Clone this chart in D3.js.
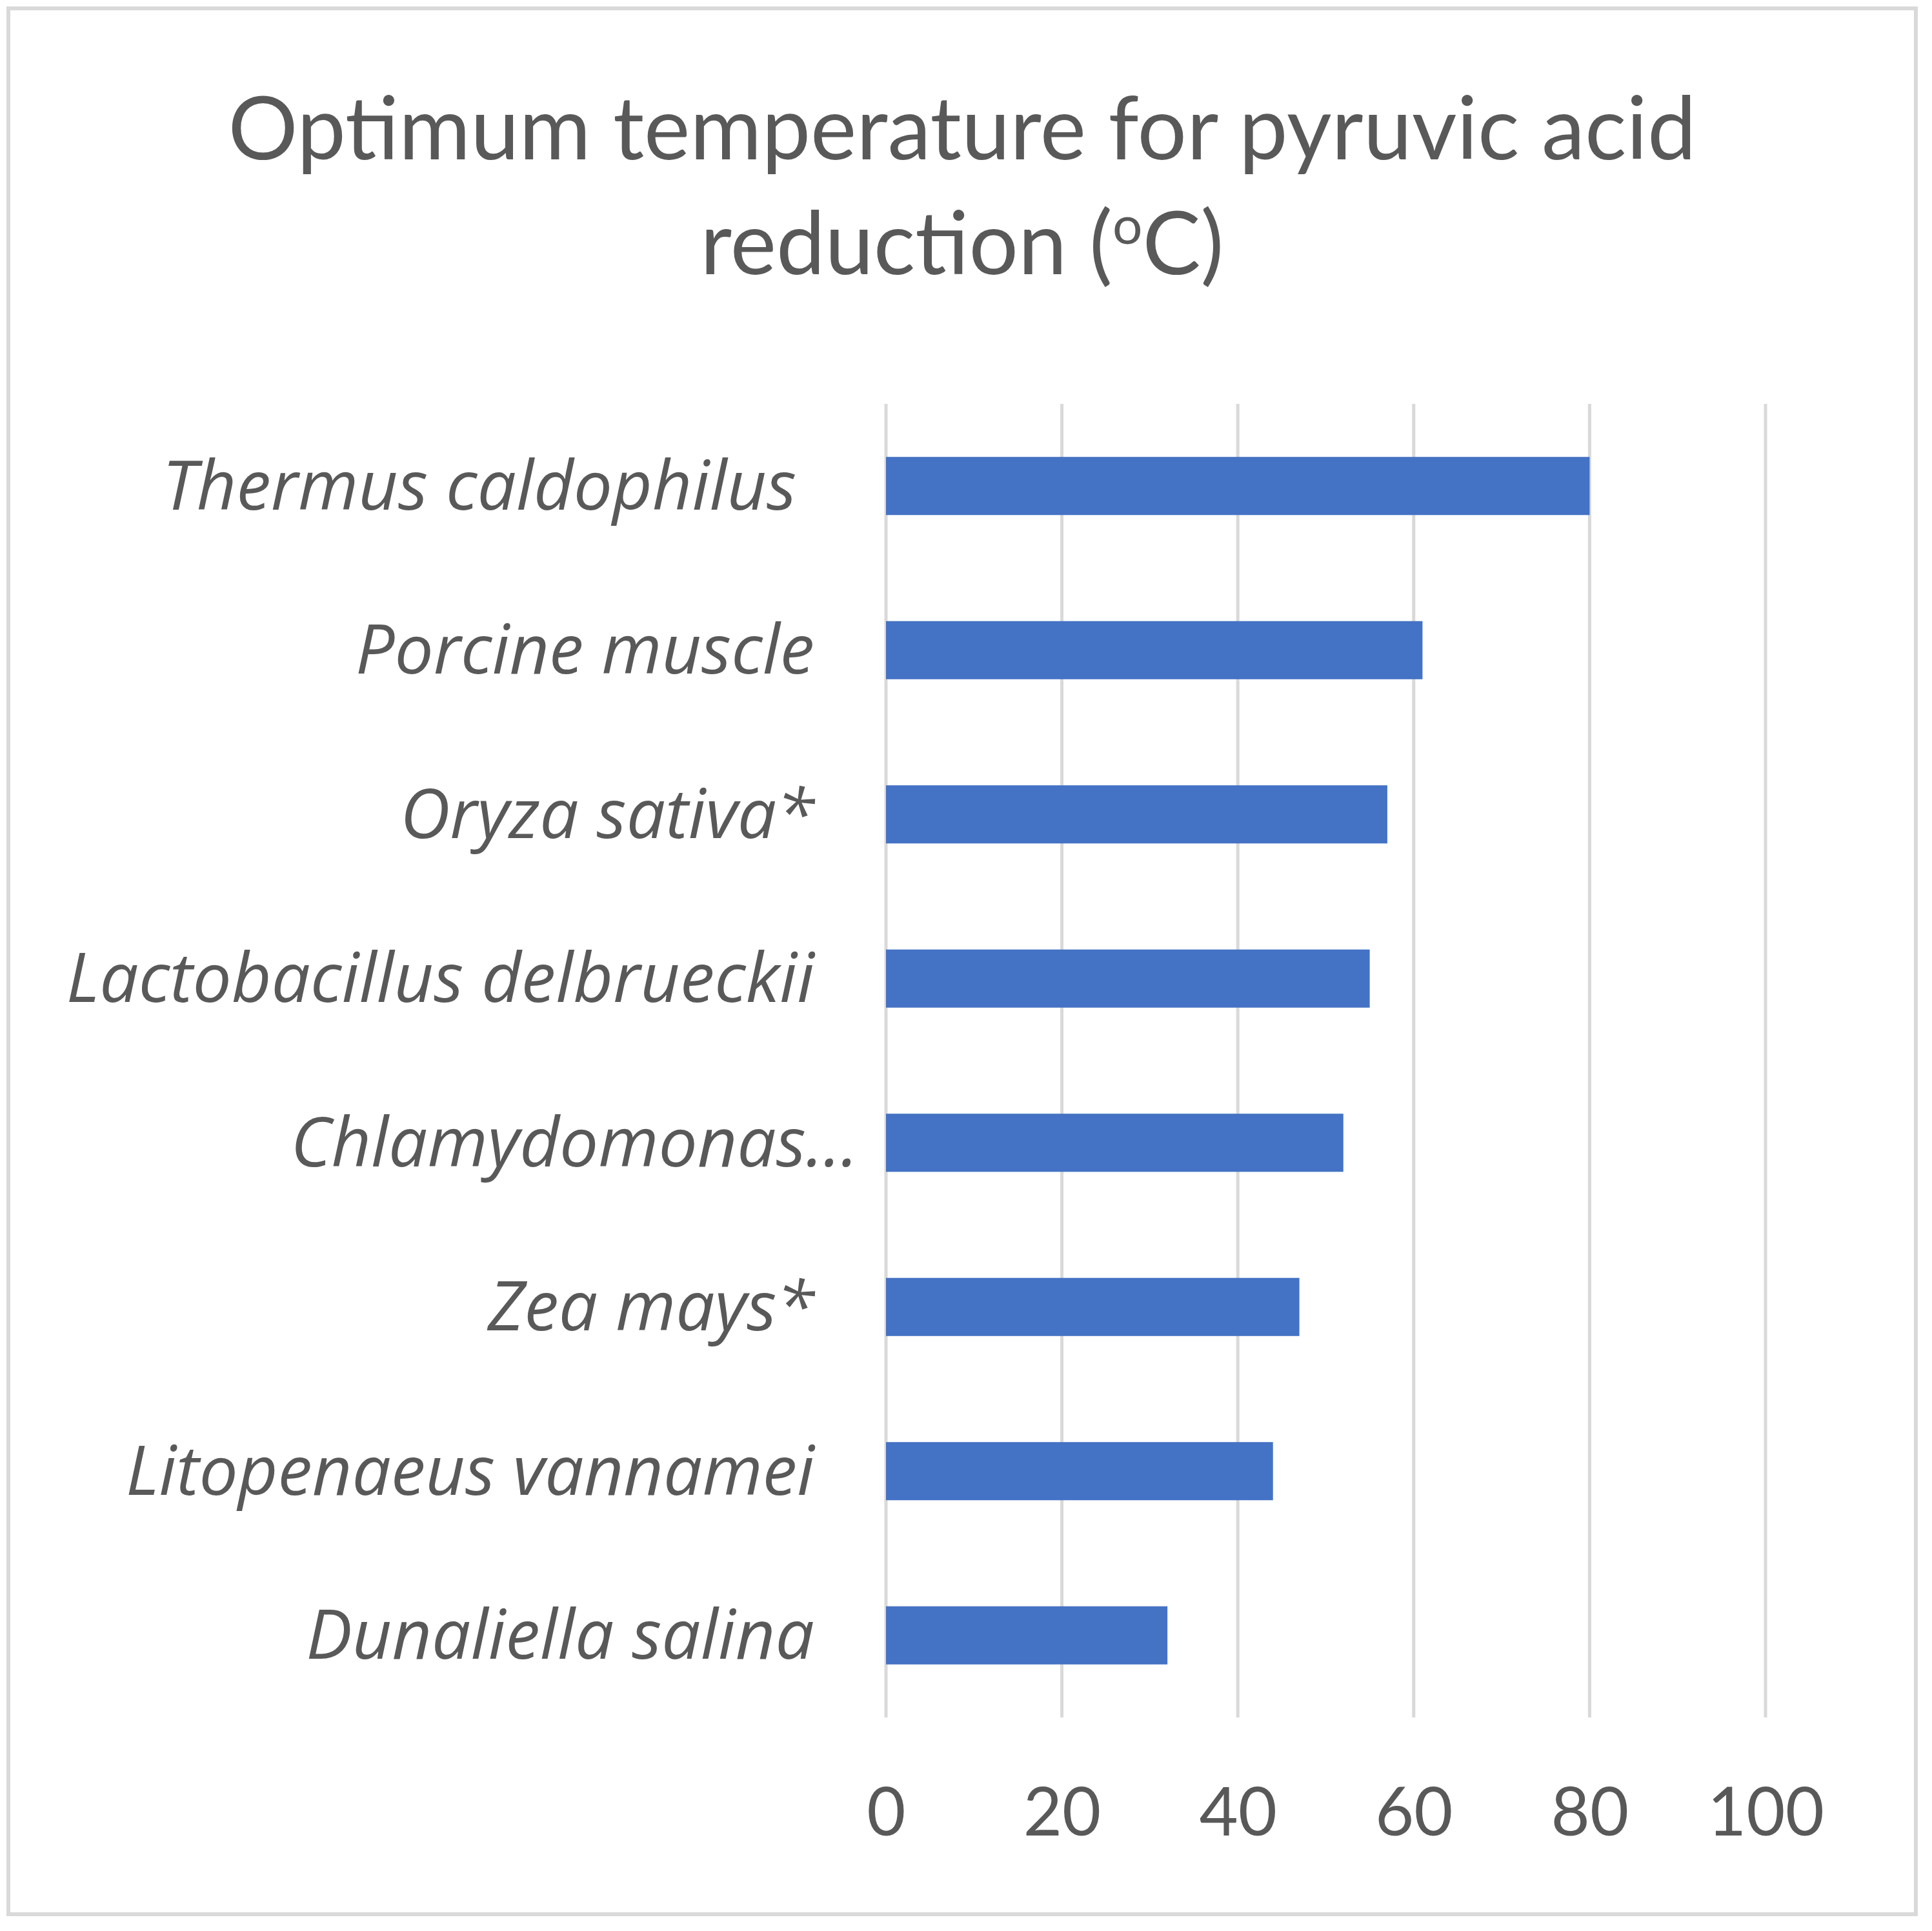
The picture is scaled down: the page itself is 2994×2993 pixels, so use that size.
<!DOCTYPE html>
<html>
<head>
<meta charset="utf-8">
<script src="https://cdn.jsdelivr.net/npm/d3@7"></script>
<style>
  body { margin: 0; background: #fff; }
  text { font-family: Lato, "Open Sans", sans-serif; fill: #595959; }
</style>
</head>
<body>
<script>
// chart data
var categories = ["Thermus caldophilus\u00a0", "Porcine muscle", "Oryza sativa*", "Lactobacillus delbrueckii",
                  "Chlamydomonas\u2026", "Zea mays*", "Litopenaeus vannamei", "Dunaliella salina"];
var values = [80, 61, 57, 55, 52, 47, 44, 32];
var xTicks = [0, 20, 40, 60, 80, 100];
var titleLines = ["Optimum temperature for pyruvic acid", "reduction ("];

var width = 2994;
var height = 2993;

var svg = d3.select('body').append('svg')
  .attr('width', width).attr('height', height);

// chart area border
svg.append('rect').attr('x', 13).attr('y', 13)
  .attr('width', 2956).attr('height', 2954)
  .attr('fill', '#fff').attr('stroke', '#d9d9d9').attr('stroke-width', 6);

// title
var title = svg.append('text').attr('text-anchor', 'middle').attr('font-size', 135);
title.append('tspan').attr('x', 1491).attr('y', 247).text(titleLines[0]);
var line2 = title.append('tspan').attr('x', 1491).attr('y', 425);
line2.append('tspan').text(titleLines[1]);
line2.append('tspan').attr('font-size', 82).attr('dy', -47).text('o');
line2.append('tspan').attr('dy', 47).text('C)');

// scales
var x = d3.scaleLinear().domain([0, 100]).range([1373, 2736]);
var y = d3.scaleBand().domain(categories).range([626, 2662])
  .paddingInner(0.646).paddingOuter(0.323);

// vertical gridlines
svg.append('g').selectAll('line').data(xTicks).enter().append('line')
  .attr('x1', d => x(d)).attr('x2', d => x(d))
  .attr('y1', 626).attr('y2', 2662)
  .attr('stroke', '#d9d9d9').attr('stroke-width', 5);

// bars
svg.append('g').selectAll('rect').data(values).enter().append('rect')
  .attr('x', x(0))
  .attr('y', (d, i) => y(categories[i]))
  .attr('width', d => x(d) - x(0))
  .attr('height', y.bandwidth())
  .attr('fill', '#4472c4');

// x axis labels
var xAxis = d3.axisBottom(x).tickValues(xTicks).tickSize(0).tickPadding(0);
var gx = svg.append('g').attr('transform', 'translate(0,2770)').call(xAxis);
gx.select('.domain').remove();
gx.selectAll('text').attr('font-size', 104).attr('dy', '0.72em')
  .style('font-family', 'Lato, "Open Sans", sans-serif').style('fill', '#595959');

// category labels
var yAxis = d3.axisLeft(y).tickSize(0).tickPadding(0);
var gy = svg.append('g').attr('transform', 'translate(1262,0)').call(yAxis);
gy.select('.domain').remove();
gy.selectAll('text').attr('font-size', 107).attr('font-style', 'italic')
  .attr('dy', '0.34em')
  // truncated label sits a bit further right, as in excel
  .attr('dx', d => d.endsWith('\u2026') ? 68 : 0)
  .style('font-family', '"Open Sans", Lato, sans-serif').style('fill', '#595959');
</script>
</body>
</html>
